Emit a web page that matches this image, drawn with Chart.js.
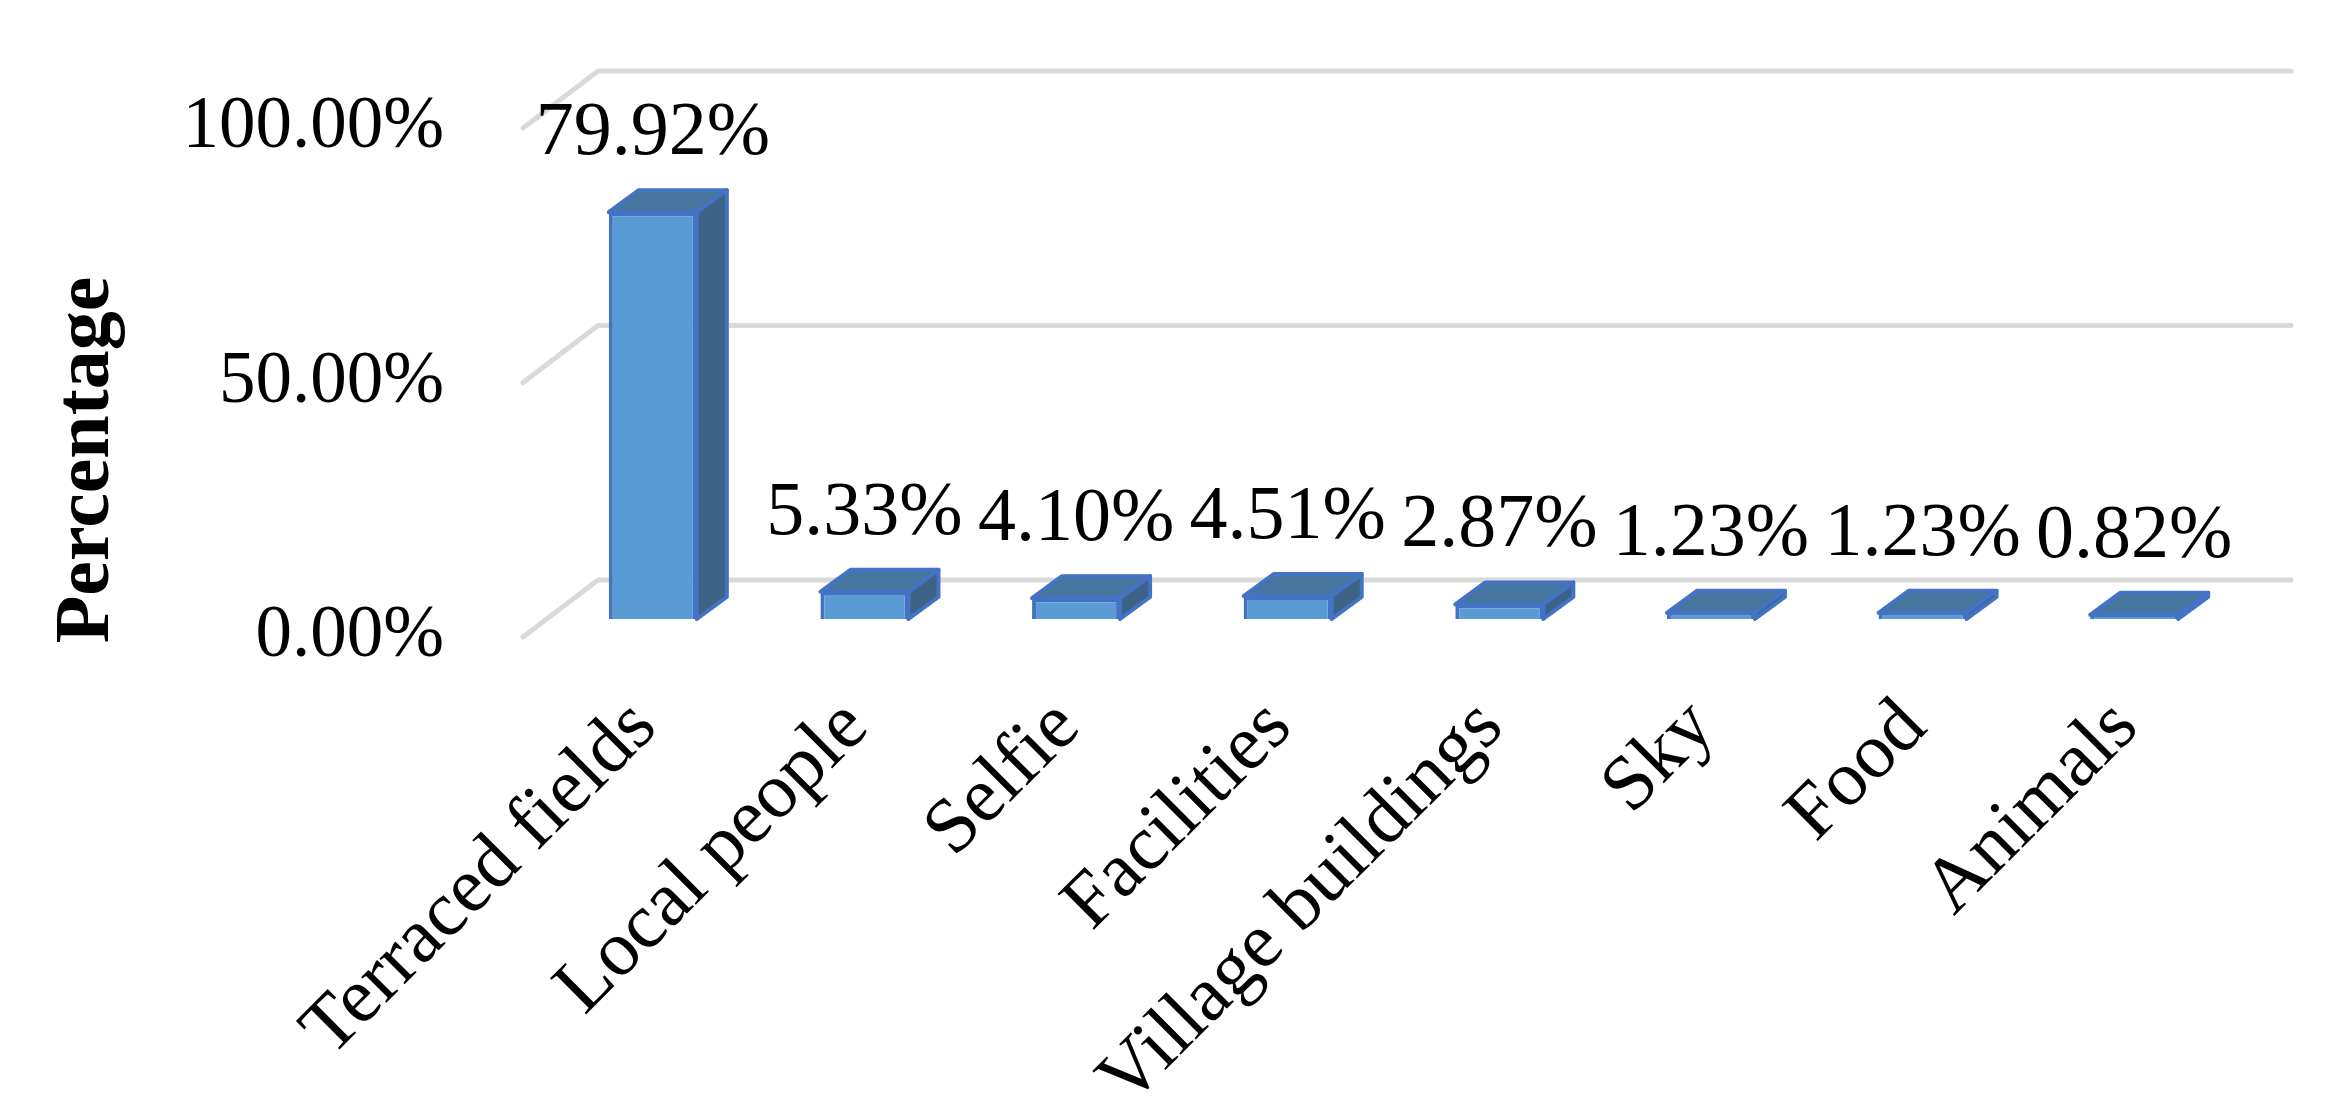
<!DOCTYPE html>
<html>
<head>
<meta charset="utf-8">
<title>Photo content share</title>
<script src="https://cdn.jsdelivr.net/npm/chart.js@4.4.0/dist/chart.umd.min.js"></script>
<style>
  body { margin: 0; background: #fff; }
  #wrap { width: 2334px; height: 1119px; }
</style>
</head>
<body>
<div id="wrap"><canvas id="chart" width="2334" height="1119"></canvas></div>
<script>
// share of photos per content category
const categories = ["Terraced fields", "Local people", "Selfie", "Facilities", "Village buildings", "Sky", "Food", "Animals"];
const percentages = [79.92, 5.33, 4.10, 4.51, 2.87, 1.23, 1.23, 0.82];
const yTicks = [0, 50, 100];

const FONT = "'Liberation Serif', 'Times New Roman', serif";

// fake 3d offsets in pixels
const depth = { x: 30, y: 22 };      // thickness of a bar
const wallBack = { x: 51, y: 39 };   // back wall behind the bars
const wallFront = { x: 24, y: 18 };  // front edge of the floor (tick labels sit here)

const colors = {
  front: "#5B9BD5",
  top: "#46769F",
  side: "#3D6487",
  edge: "#4472C4",
  grid: "#D9D9D9",
};

// grid lines on the back wall + the diagonal on the left side
const wallGrid = {
  id: "wallGrid",
  beforeDatasetsDraw(chart) {
    const { ctx, chartArea, scales } = chart;
    ctx.save();
    ctx.strokeStyle = colors.grid;
    ctx.lineWidth = 5;
    ctx.lineCap = "round";
    ctx.lineJoin = "round";
    yTicks.forEach(function (v) {
      const py = scales.y.getPixelForValue(v);
      const by = py - wallBack.y;
      ctx.beginPath();
      ctx.moveTo(chartArea.left - wallFront.x, py + wallFront.y);
      ctx.lineTo(chartArea.left + wallBack.x, by);
      ctx.lineTo(chartArea.right + wallBack.x, by);
      ctx.stroke();
    });
    ctx.restore();
  },
};

// top + side faces of each bar, then the value label
const bars3d = {
  id: "bars3d",
  afterDatasetsDraw(chart) {
    const ctx = chart.ctx;
    const meta = chart.getDatasetMeta(0);
    ctx.save();
    ctx.lineWidth = 4;
    ctx.lineJoin = "round";
    ctx.strokeStyle = colors.edge;
    meta.data.forEach(function (bar, i) {
      const p = bar.getProps(["x", "y", "base", "width"], true);
      const l = p.x - p.width / 2;
      const r = p.x + p.width / 2;

      ctx.beginPath();
      ctx.moveTo(l, p.y);
      ctx.lineTo(l + depth.x, p.y - depth.y);
      ctx.lineTo(r + depth.x, p.y - depth.y);
      ctx.lineTo(r, p.y);
      ctx.closePath();
      ctx.fillStyle = colors.top;
      ctx.fill();
      ctx.stroke();

      ctx.beginPath();
      ctx.moveTo(r, p.y);
      ctx.lineTo(r + depth.x, p.y - depth.y);
      ctx.lineTo(r + depth.x, p.base - depth.y);
      ctx.lineTo(r, p.base);
      ctx.closePath();
      ctx.fillStyle = colors.side;
      ctx.fill();
      ctx.stroke();

      ctx.fillStyle = "#000";
      ctx.font = "76px " + FONT;
      ctx.textAlign = "center";
      ctx.textBaseline = "alphabetic";
      ctx.fillText(percentages[i].toFixed(2) + "%", p.x, p.y - depth.y - 36);
    });
    ctx.restore();
  },
};

// rotated bold axis title, placed lower than chart.js would put it
const yTitle = {
  id: "yTitle",
  afterDraw(chart) {
    const ctx = chart.ctx;
    ctx.save();
    ctx.translate(108, 460);
    ctx.rotate(-Math.PI / 2);
    ctx.font = "bold 78px " + FONT;
    ctx.fillStyle = "#000";
    ctx.textAlign = "center";
    ctx.textBaseline = "alphabetic";
    ctx.fillText("Percentage", 0, 0);
    ctx.restore();
  },
};

new Chart(document.getElementById("chart"), {
  type: "bar",
  data: {
    labels: categories,
    datasets: [
      {
        data: percentages,
        backgroundColor: colors.front,
        borderColor: colors.edge,
        borderWidth: 4,
        categoryPercentage: 1,
        barPercentage: 0.416,
      },
    ],
  },
  options: {
    responsive: false,
    animation: false,
    devicePixelRatio: 1,
    layout: { padding: { top: 110, right: 94, left: 0, bottom: 0 } },
    plugins: {
      legend: { display: false },
      tooltip: { enabled: false },
    },
    scales: {
      x: {
        grid: { display: false, drawTicks: false },
        border: { display: false },
        ticks: {
          autoSkip: false,
          minRotation: 45,
          maxRotation: 45,
          padding: 63,
          labelOffset: -8,
          color: "#000",
          font: { family: FONT, size: 78 },
        },
        afterFit: function (scale) {
          scale.height = 500;
          scale.paddingLeft = 0;
          scale.paddingRight = 0;
        },
      },
      y: {
        min: 0,
        max: 100,
        grid: { display: false, drawTicks: false },
        border: { display: false },
        afterBuildTicks: function (scale) {
          scale.ticks = yTicks.map((v) => ({ value: v }));
        },
        ticks: {
          padding: 103,
          labelOffset: 18,
          color: "#000",
          font: { family: FONT, size: 73 },
          callback: function (value) {
            return Number(value).toFixed(2) + "%";
          },
        },
        afterFit: function (scale) {
          scale.width = 547;
          scale.paddingTop = 0;
          scale.paddingBottom = 0;
        },
      },
    },
  },
  plugins: [wallGrid, bars3d, yTitle],
});
</script>
</body>
</html>
